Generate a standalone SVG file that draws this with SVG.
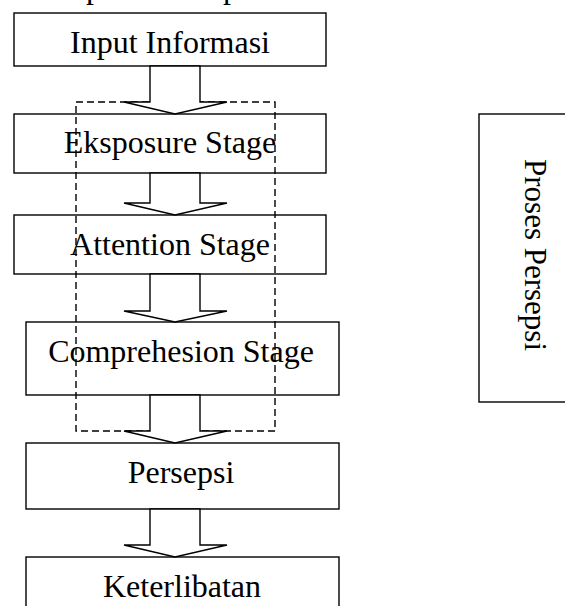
<svg xmlns="http://www.w3.org/2000/svg" width="565" height="606" viewBox="0 0 565 606">
<style>
.box{fill:#fff;stroke:#000;stroke-width:1.4}
.lbl{font-family:"Liberation Serif","Times New Roman",serif;font-size:32px;fill:#000;text-anchor:middle}
.arr{fill:#fff;stroke:#000;stroke-width:1.4;stroke-linejoin:miter}
.dash{fill:none;stroke:#000;stroke-width:1.4;stroke-dasharray:7,4}
</style>
<rect width="565" height="606" fill="#fff"/>
<text class="lbl" style="text-anchor:start" y="-2"><tspan x="86">p</tspan><tspan x="223">p</tspan></text>
<g id="n-input"><rect class="box" x="14" y="13" width="312" height="53"/><text class="lbl" x="170" y="53">Input Informasi</text></g>
<g id="n-eksposure"><rect class="box" x="14" y="114" width="312" height="59"/><text class="lbl" x="170" y="153">Eksposure Stage</text></g>
<g id="n-attention"><rect class="box" x="14" y="215" width="312" height="59"/><text class="lbl" x="170" y="255">Attention Stage</text></g>
<g id="n-comprehesion"><rect class="box" x="26" y="322" width="313" height="73"/><text class="lbl" x="181" y="362">Comprehesion Stage</text></g>
<g id="n-persepsi"><rect class="box" x="26" y="443" width="313" height="66"/><text class="lbl" x="181" y="483">Persepsi</text></g>
<g id="n-keterlibatan"><rect class="box" x="26" y="557" width="313" height="60"/><text class="lbl" x="182" y="597">Keterlibatan</text></g>
<g id="n-proses"><rect class="box" x="479" y="114" width="100" height="288"/><text class="lbl" style="text-anchor:start;font-size:31px" transform="translate(525,159) rotate(90)" x="0" y="0">Proses Persepsi</text></g>
<g id="group-dashed"><rect class="dash" x="76" y="102" width="199" height="329"/></g>
<g id="connectors">
<polygon class="arr" points="150,66 200,66 200,102 227,102 175,114 124,102 150,102"/>
<polygon class="arr" points="150,173 200,173 200,203 227,203 175,215 124,203 150,203"/>
<polygon class="arr" points="150,274 200,274 200,311 227,311 175,322 124,311 150,311"/>
<polygon class="arr" points="150,395 200,395 200,431 227,431 175,443 124,431 150,431"/>
<polygon class="arr" points="150,509 200,509 200,545 227,545 175,557 124,545 150,545"/>
</g>
</svg>
